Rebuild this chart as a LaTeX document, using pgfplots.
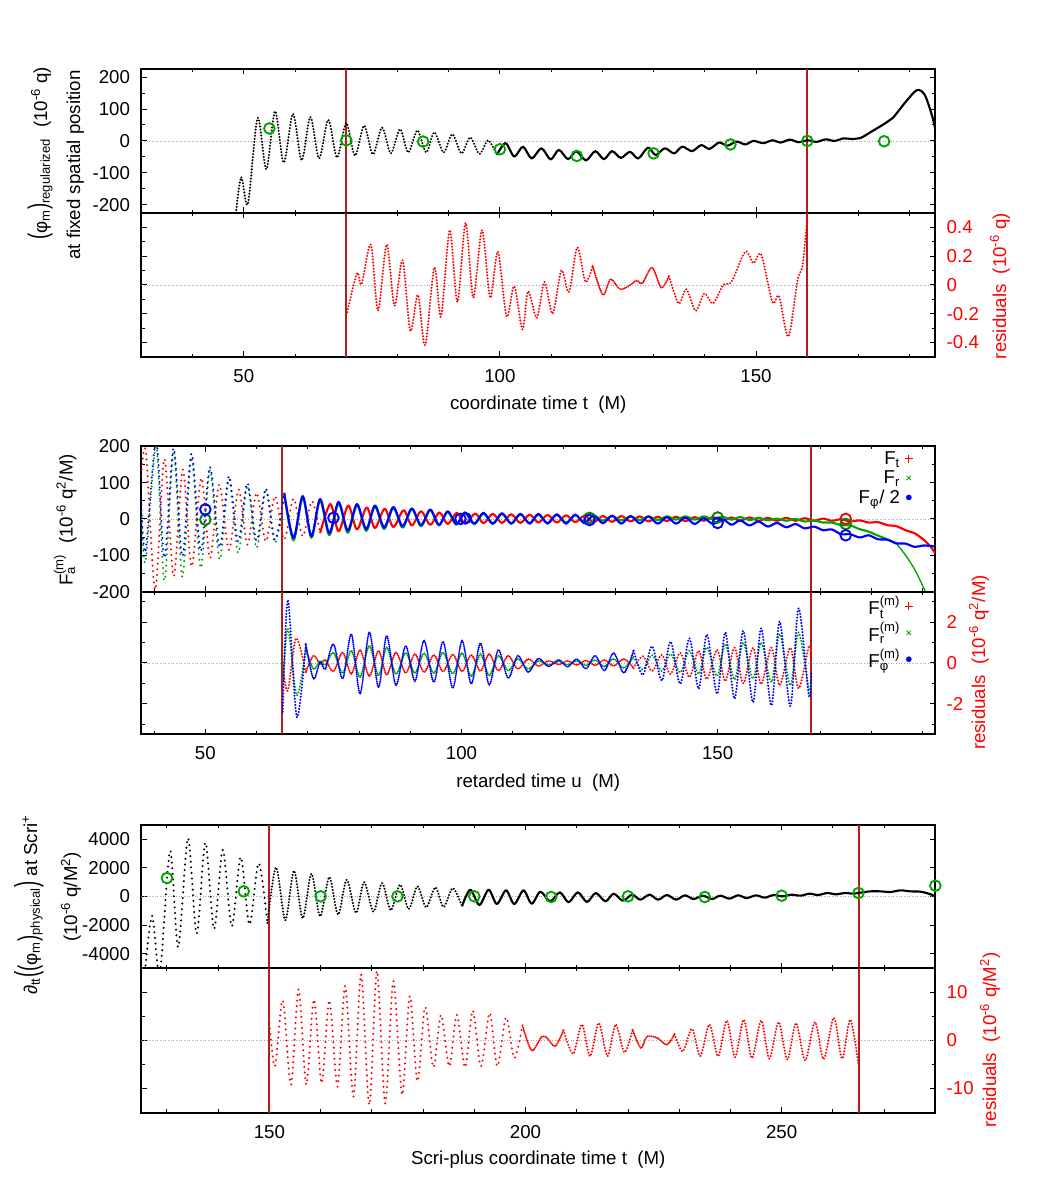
\documentclass[border=0pt]{standalone}
\usepackage{fontspec}
\setmainfont{Liberation Sans}
\usepackage{graphicx}
\usepackage{pgfplots}
\pgfplotsset{compat=1.18}

\definecolor{vline}{RGB}{178,30,30}
\definecolor{cgreen}{RGB}{0,165,0}
\definecolor{cblue}{RGB}{0,0,255}
\definecolor{cred}{RGB}{255,0,0}

\tikzset{
  dots/.style={line width=1.7pt, line cap=round, dash pattern=on 0pt off 2.3pt},
  densedots/.style={line width=1.6pt, line cap=round, dash pattern=on 0pt off 1.5pt},
  sparsedots/.style={line width=1.7pt, line cap=round, dash pattern=on 0pt off 4.2pt},
  full/.style={line width=1.6pt, line join=round},
  zeroline/.style={gray!70, line width=0.4pt, dash pattern=on 0.8pt off 1.2pt},
  marker/.style={vline, line width=1.5pt},
}

\pgfplotsset{
  panel/.style={
    scale only axis, width=595.5pt, anchor=north west,
    axis line style={line width=1.4pt},
    every tick/.style={black, line width=0.7pt},
    major tick length=4pt, minor tick length=2.4pt,
    tick align=inside, xtick pos=both, ytick pos=both,
    scaled ticks=false, clip=true,
    xticklabel style={anchor=center, yshift=-14.4pt},
  },
  leftlab/.style={yticklabel style={anchor=east, xshift=-5pt}},
  rightlab/.style={yticklabel pos=right, yticklabel style={anchor=west, xshift=5pt, text=red}},
  legstyle/.style={legend style={draw=none, fill=none, anchor=north east,
    font=\fontsize{14}{16.8}\selectfont, column sep=3pt,
    nodes={inner sep=0.6pt}},
    legend cell align=right, legend plot pos=right},
}

\newcommand{\bp}[1]{\scalebox{1}[1.45]{#1}}
% component symbol with stacked index and mode label
\newcommand{\Fm}[1]{F$_{\mbox{\fontsize{9.8}{10}\selectfont #1}}^{\mbox{\fontsize{9.8}{10}\selectfont (m)}}$}

\begin{document}
\begin{tikzpicture}[font=\fontsize{14}{16.8}\selectfont]
\path[use as bounding box] (0pt,0pt) rectangle (787.5pt,-885pt);

%% ---------------- field at fixed spatial position ----------------
\begin{axis}[panel, leftlab, at={(106pt,-51.8pt)}, height=107.8pt,
  xmin=30, xmax=185, ymin=-225, ymax=225,
  xtick={50,100,150}, xticklabels={},
  minor xtick={30,40,...,180},
  ytick={-200,-100,0,100,200}, yticklabels={-200,-100,0,100,200},
  minor ytick={-150,-50,50,150}]
\addplot[zeroline, forget plot] coordinates {(30,0) (185,0)};
\addplot[marker, forget plot] coordinates {(70,-225) (70,225)};
\addplot[marker, forget plot] coordinates {(160,-225) (160,225)};
\addplot[black, dots, smooth, no markers, forget plot] coordinates {
 (48.4,-235) (49.5,-113) (50.8,-197) (52.7,72) (54.4,-89) (56.1,93) (57.8,-68)
 (59.6,85) (61.3,-61) (63.0,75) (64.7,-55) (66.5,66) (68.2,-52) (70.0,56)
 (71.7,-46) (73.5,48) (75.2,-42) (77.0,42) (78.7,-39) (80.5,37) (82.1,-36)
 (83.9,33) (85.6,-36) (87.2,27) (89.0,-36) (90.7,21) (92.5,-39) (94.2,11)
 (96.0,-41) (97.7,2) (99.4,-44)};
\addplot[black, full, smooth, no markers, forget plot] coordinates {
 (99.4,-44) (101.1,-7) (102.8,-49) (104.5,-18) (106.2,-55) (108.1,-23) (109.9,-58)
 (111.5,-28) (113.3,-57) (114.9,-32) (116.8,-61) (118.6,-32) (120.3,-57) (121.9,-32)
 (123.6,-53) (125.4,-34) (127.0,-55) (128.9,-21) (130.4,-44) (132.2,-23) (134.0,-39)
 (135.6,-18) (137.5,-32) (139.3,-13) (140.9,-25) (142.8,-5) (144.4,-15) (146.2,-2)
 (147.9,-11) (149.5,0) (151.4,-7) (153.2,2) (154.8,-5) (156.6,4) (158.3,-4)
 (160.1,2) (161.8,-3) (163.6,5) (165.3,0) (167.1,8) (168.7,6) (170.5,10)
 (172.0,24) (175.3,56) (176.7,72) (179.3,124) (181.4,159) (182.9,145) (184.3,82) (185.1,30)};
\addplot[only marks, mark=o, mark size=4pt, cgreen, line width=1.4pt, forget plot] coordinates {
 (55,39) (70,2) (85,-2) (100,-26) (115,-47) (130,-39) (145,-11) (160,0) (175,-1)};
\end{axis}

\begin{axis}[panel, rightlab, at={(106pt,-159.6pt)}, height=108pt,
  xmin=30, xmax=185, ymin=-0.5, ymax=0.5,
  xtick={50,100,150}, xticklabels={50,100,150},
  minor xtick={30,40,...,180},
  ytick={-0.4,-0.2,0,0.2,0.4}, yticklabels={-0.4,-0.2,0,0.2,0.4},
  minor ytick={-0.3,-0.1,0.1,0.3}]
\addplot[zeroline, forget plot] coordinates {(30,0) (185,0)};
\addplot[marker, forget plot] coordinates {(70,-0.5) (70,0.5)};
\addplot[marker, forget plot] coordinates {(160,-0.5) (160,0.5)};
\addplot[cred, dots, smooth, no markers, forget plot] coordinates {
 (70.2,-0.19) (72.1,0.08) (73.0,0.005) (74.8,0.28) (76.2,-0.18) (77.9,0.28)
 (79.4,-0.145) (81.0,0.17) (82.5,-0.32) (84.0,-0.07) (85.4,-0.42) (87.2,0.12)
 (88.5,-0.22) (90.2,0.38) (91.7,-0.12) (93.3,0.43) (94.8,-0.09) (96.5,0.38)
 (98.1,-0.09) (99.6,0.23) (101.3,-0.22) (102.8,-0.01) (104.4,-0.31) (105.5,-0.045)
 (107.2,-0.23) (108.7,0.02) (110.3,-0.2) (112.0,0.1) (113.5,-0.05) (115.1,0.26)
 (116.7,0.02) (118.1,0.13)};
\addplot[cred, densedots, smooth, no markers, forget plot] coordinates {
 (118.1,0.13) (120.1,-0.07) (121.6,0.04) (123.4,-0.03) (125.1,-0.01) (126.7,0.03)
 (127.8,0.01) (129.7,0.12) (131.5,-0.02) (133.0,0.06)};
\addplot[cred, dots, smooth, no markers, forget plot] coordinates {
 (133.0,0.06) (134.9,-0.13) (136.4,-0.03) (138.2,-0.18) (139.9,-0.06) (141.6,-0.13)
 (143.6,0.0) (145.2,0.02) (147.9,0.23) (149.5,0.15) (151.0,0.21) (153.2,-0.12)
 (154.5,-0.08) (156.3,-0.36) (158.1,0.03) (159.1,0.14) (160.0,0.46)};
\end{axis}

%% ---------------- self-force components ----------------
\begin{axis}[panel, leftlab, legstyle, legend style={at={(0.977,0.99)}, row sep=2pt},
  at={(106pt,-334.7pt)}, height=109pt,
  xmin=37.5, xmax=192.5, ymin=-200, ymax=200,
  xtick={50,100,150}, xticklabels={},
  minor xtick={40,50,...,190},
  ytick={-200,-100,0,100,200}, yticklabels={-200,-100,0,100,200},
  minor ytick={-150,-50,50,150}]
\addplot[zeroline, forget plot] coordinates {(37.5,0) (192.5,0)};
\addplot[marker, forget plot] coordinates {(65,-200) (65,200)};
\addplot[marker, forget plot] coordinates {(168.3,-200) (168.3,200)};
% F_t
\addplot[cred, sparsedots, smooth, no markers, forget plot] coordinates {
 (37.5,120) (38.4,185) (40.2,-195) (42.0,165) (43.8,-158) (45.6,136) (47.3,-131)
 (49.2,113) (50.9,-108) (52.7,95) (54.6,-85) (56.5,81) (58.2,-71) (60.0,72)
 (61.8,-62) (63.6,63) (65.4,-57) (67.2,56) (69.0,-48) (70.8,49) (72.4,-39)};
\addplot[cred, full, smooth, no markers, forget plot] coordinates {
 (72.4,-39) (74.4,41) (76.0,-34) (77.9,37) (79.6,-29) (81.5,32) (83.1,-25) (85.0,28)
 (86.7,-22) (88.7,24) (90.3,-18) (92.1,21) (93.9,-16) (95.7,18) (97.3,-14) (99.1,17)
 (100.7,-13) (102.7,15) (104.3,-12) (106.1,14) (107.9,-11) (109.7,13) (111.5,-11)
 (113.3,12) (115.0,-10) (116.8,11) (118.6,-10) (120.4,10) (122.2,-9) (124.0,9)
 (125.8,-9) (127.6,8) (129.4,-8) (131.2,8) (133.0,-7) (134.8,7) (136.5,-7) (138.3,6)
 (140.1,-6) (141.9,6) (143.7,-6) (145.5,5) (147.3,-5) (149.1,5) (150.9,-5) (152.7,4)
 (154.4,-5) (156.2,4) (158.0,-5) (159.8,3) (161.6,-5) (163.4,3) (165.2,-5) (167.0,2)
 (168.8,-5) (170.6,1) (172.3,-5) (174.1,-1) (175.9,-7) (177.7,-4) (179.5,-10)
 (181.3,-9) (183.1,-17) (184.9,-20) (186.7,-31) (188.5,-40) (190.2,-57) (191.5,-75) (192.5,-95)};
% F_r
\addplot[cgreen, sparsedots, smooth, no markers, forget plot] coordinates {
 (37.5,20) (38.3,-120) (40.4,200) (42.0,-170) (43.8,187) (45.5,-160) (47.3,170)
 (49.1,-135) (50.9,135) (52.8,-112) (54.6,110) (56.4,-94) (58.2,92) (60.0,-80)
 (61.8,78) (63.6,-66) (65.4,67)};
\addplot[cgreen, full, smooth, no markers, forget plot] coordinates {
 (65.4,67) (67.2,-59) (69.0,58) (70.7,-52) (72.4,51) (74.2,-45) (76.0,43) (77.8,-38)
 (79.6,38) (81.4,-33) (83.1,34) (84.9,-28) (86.7,30) (88.5,-24) (90.3,27) (92.1,-20)
 (93.9,24) (95.6,-18) (97.3,19) (99.0,-16) (100.7,16) (102.5,-15) (104.3,15)
 (106.1,-14) (107.9,14) (109.7,-13) (111.5,13) (113.3,-12) (115.0,12) (116.8,-11)
 (118.6,11) (120.4,-10) (122.2,10) (124.0,-8) (125.8,9) (127.6,-5) (129.4,8)
 (131.2,-4) (133.0,7) (134.8,-3) (136.5,7) (138.3,-3) (140.1,7) (141.9,-2) (143.7,7)
 (145.5,-2) (147.3,7) (149.1,-1) (150.9,6) (152.7,-2) (154.4,5) (156.2,-3) (158.0,3)
 (159.8,-4) (161.6,1) (163.4,-5) (165.2,0) (167.0,-7) (168.8,-4) (170.6,-10)
 (172.3,-10) (174.1,-17) (175.9,-18) (177.7,-28) (179.5,-35) (181.3,-46) (183.1,-56)
 (184.9,-68)};
\addplot[cgreen, line width=1pt, smooth, no markers, forget plot] coordinates {
 (184.9,-68) (186.7,-100) (188.5,-140) (189.9,-180) (191.0,-215)};
% F_phi / 2
\addplot[cblue, sparsedots, smooth, no markers, forget plot] coordinates {
 (37.5,40) (38.3,-90) (40.4,215) (42.0,-107) (43.8,195) (45.5,-103) (47.3,180)
 (49.1,-89) (50.9,143) (52.8,-78) (54.6,118) (56.4,-62) (58.2,99) (60.0,-60)
 (61.8,84) (63.6,-58) (65.4,72)};
\addplot[cblue, full, smooth, no markers, forget plot] coordinates {
 (65.4,72) (67.2,-52) (69.0,63) (70.7,-48) (72.4,55) (74.2,-39) (76.0,47) (77.8,-32)
 (79.6,41) (81.4,-28) (83.1,37) (84.9,-23) (86.7,33) (88.5,-20) (90.3,29) (92.1,-17)
 (93.9,26) (95.6,-16) (97.3,21) (99.0,-14) (100.7,18) (102.5,-13) (104.3,17)
 (106.1,-13) (107.9,16) (109.7,-13) (111.5,14) (113.3,-13) (115.0,14) (116.8,-13)
 (118.6,13) (120.4,-13) (122.2,12) (124.0,-12) (125.8,10) (127.6,-12) (129.4,9)
 (131.2,-13) (133.0,8) (134.8,-12) (136.5,7) (138.3,-13) (140.1,5) (141.9,-13)
 (143.7,4) (145.5,-14) (147.3,2) (149.1,-14) (150.9,0) (152.7,-16) (154.4,-4)
 (156.2,-18) (158.0,-7) (159.8,-21) (161.6,-11) (163.4,-23) (165.2,-14) (167.0,-26)
 (168.8,-21) (170.6,-31) (172.3,-29) (174.1,-42) (175.9,-42) (177.7,-51) (179.5,-45)
 (181.3,-56) (183.1,-57) (184.9,-67) (186.7,-68) (188.5,-77) (190.2,-73) (192.5,-76)};
\addplot[only marks, mark=o, mark size=4pt, cred, line width=1.4pt, forget plot] coordinates {(175,0)};
\addplot[only marks, mark=o, mark size=4pt, cgreen!80!black, line width=1.4pt, forget plot] coordinates {
 (50,-2) (125,3) (150,4) (175,-14)};
\addplot[only marks, mark=o, mark size=4pt, cblue, line width=1.4pt, forget plot] coordinates {
 (50,26) (75,3) (99.8,0) (100.8,2) (125,-3) (150,-11) (175,-45)};
\addlegendimage{only marks, mark=+, cred, mark size=3pt, line width=0.6pt}
\addlegendentry{F\textsubscript{t}}
\addlegendimage{only marks, mark=x, cgreen, mark size=2.4pt, line width=0.6pt}
\addlegendentry{F\textsubscript{r}}
\addlegendimage{only marks, mark=*, cblue, mark size=1.9pt}
\addlegendentry{F\textsubscript{φ}/ 2}
\end{axis}

\begin{axis}[panel, rightlab, legstyle, legend style={at={(0.977,0.995)}, row sep=3pt},
  at={(106pt,-443.7pt)}, height=107pt,
  xmin=37.5, xmax=192.5, ymin=-3.5, ymax=3.5,
  xtick={50,100,150}, xticklabels={50,100,150},
  minor xtick={40,50,...,190},
  ytick={-2,0,2}, yticklabels={-2,0,2},
  minor ytick={-3,-1,1,3}]
\addplot[zeroline, forget plot] coordinates {(37.5,0) (192.5,0)};
\addplot[marker, forget plot] coordinates {(65,-3.5) (65,3.5)};
\addplot[marker, forget plot] coordinates {(168.3,-3.5) (168.3,3.5)};
% F_t residual
\addplot[cred, dots, smooth, no markers, forget plot] coordinates {
 (65.1,-0.2) (66.1,-1.36) (67.7,1.21) (69.6,-0.46)};
\addplot[cred, densedots, smooth, no markers, forget plot] coordinates {
 (69.6,-0.46) (71.1,0.36) (72.4,-0.05) (73.4,0.15) (75.0,-0.42) (76.8,0.52) (78.5,-0.54)
 (80.2,0.64) (82.0,-0.65) (83.8,0.6) (85.4,-0.59) (87.2,0.52) (89.1,-0.49) (90.9,0.44)
 (92.7,-0.46) (94.6,0.39) (96.4,-0.42) (98.3,0.42) (100.1,-0.42) (101.9,0.39)
 (103.7,-0.4) (105.4,0.44) (107.2,-0.38) (109.1,0.36) (111.0,-0.3) (113.0,0.2)
 (115.0,-0.16) (117.0,0.1) (119.0,-0.08) (120.7,0.1) (122.5,-0.1) (124.3,0.12)
 (126.1,-0.12) (127.9,0.15) (129.7,-0.15) (131.7,0.2) (133.6,-0.25)};
\addplot[cred, dots, smooth, no markers, forget plot] coordinates {
 (133.6,-0.25) (135.4,0.33) (137.2,-0.4) (139.1,0.4) (140.8,-0.55) (142.7,0.5)
 (144.5,-0.7) (146.3,0.6) (147.9,-0.8) (149.9,0.65) (151.5,-0.9) (153.3,0.75)
 (155.0,-1.0) (156.9,0.75) (158.5,-1.05) (160.5,0.75) (162.1,-1.1) (164.2,0.75)
 (165.8,-1.25) (167.8,0.8) (168.3,0.5)};
% F_r residual
\addplot[cgreen, dots, smooth, no markers, forget plot] coordinates {
 (65.1,-1.0) (66.1,1.67) (67.85,-1.6) (69.6,0.69)};
\addplot[cgreen, densedots, smooth, no markers, forget plot] coordinates {
 (69.6,0.69) (71.1,-0.3) (72.4,0.1) (73.4,-0.1) (75.0,0.5) (76.8,-0.5) (78.5,0.6)
 (80.2,-0.7) (82.0,0.85) (83.8,-0.62) (85.4,0.77) (87.2,-0.55) (89.1,0.5) (90.9,-0.5)
 (92.7,0.47) (94.6,-0.5) (96.4,0.52) (98.3,-0.54) (100.1,0.49) (101.9,-0.65)
 (103.7,0.44) (105.4,-0.62) (107.2,0.36) (109.1,-0.38) (111.0,0.2) (113.0,-0.3)
 (115.0,0.1) (117.0,-0.1) (119.0,0.08) (120.7,-0.1) (122.5,0.1) (124.3,-0.12)
 (126.1,0.15) (127.9,-0.18) (129.7,0.2) (131.7,-0.25) (133.6,0.3)};
\addplot[cgreen, dots, smooth, no markers, forget plot] coordinates {
 (133.6,0.3) (135.4,-0.33) (137.2,0.38) (139.1,-0.4) (140.8,0.44) (142.7,-0.46)
 (144.5,0.6) (146.3,-0.54) (147.9,0.77) (149.9,-0.65) (151.5,0.93) (153.3,-0.82)
 (155.0,1.0) (156.9,-0.78) (158.5,1.0) (160.5,-0.95) (162.1,1.42) (164.2,-1.1)
 (165.8,1.5) (167.8,-1.27) (168.3,-1.0)};
% F_phi residual
\addplot[cblue, dots, smooth, no markers, forget plot] coordinates {
 (65.1,-2.4) (66.1,3.1) (67.85,-2.66) (69.6,0.93)};
\addplot[cblue, densedots, smooth, no markers, forget plot] coordinates {
 (69.6,0.93) (71.1,-0.78) (72.4,0.05) (73.4,-0.3) (75.0,0.93) (76.8,-0.78) (78.5,1.42)
 (80.2,-1.52) (82.0,1.5) (83.8,-1.2) (85.4,1.34) (87.2,-1.1) (89.1,0.85) (90.9,-0.9)
 (92.7,1.1) (94.6,-0.95) (96.4,1.05) (98.3,-1.24) (100.1,1.1) (101.9,-1.03)
 (103.7,0.98) (105.4,-1.08) (107.2,0.65) (109.1,-0.75) (111.0,0.36) (113.0,-0.45)
 (115.0,0.22) (117.0,-0.18) (119.0,0.16) (120.7,-0.2) (122.5,0.2) (124.3,-0.29)
 (126.1,0.36) (127.9,-0.38) (129.7,0.49) (131.7,-0.49) (133.6,0.6)};
\addplot[cblue, dots, smooth, no markers, forget plot] coordinates {
 (133.6,0.6) (135.4,-0.59) (137.2,0.82) (139.1,-0.87) (140.8,1.05) (142.7,-1.03)
 (144.5,1.21) (146.3,-1.27) (147.9,1.39) (149.9,-1.52) (151.5,1.5) (153.3,-1.76)
 (155.0,1.58) (156.9,-1.93) (158.5,1.7) (160.5,-2.09) (162.1,2.03) (164.2,-2.12)
 (165.8,2.68) (167.8,-1.6) (168.3,-0.5)};
\addlegendimage{only marks, mark=+, cred, mark size=3pt, line width=0.6pt}
\addlegendentry{\Fm{t}}
\addlegendimage{only marks, mark=x, cgreen, mark size=2.4pt, line width=0.6pt}
\addlegendentry{\Fm{r}}
\addlegendimage{only marks, mark=*, cblue, mark size=1.9pt}
\addlegendentry{\Fm{φ}}
\end{axis}

%% ---------------- second time derivative at Scri+ ----------------
\begin{axis}[panel, leftlab, at={(106pt,-618.5pt)}, height=107.5pt,
  xmin=125, xmax=280, ymin=-5000, ymax=5000,
  xtick={150,200,250}, xticklabels={},
  minor xtick={130,140,...,280},
  ytick={-4000,-2000,0,2000,4000}, yticklabels={-4000,-2000,0,2000,4000}]
\addplot[zeroline, forget plot] coordinates {(125,0) (280,0)};
\addplot[marker, forget plot] coordinates {(150,-5000) (150,5000)};
\addplot[marker, forget plot] coordinates {(265,-5000) (265,5000)};
\addplot[black, sparsedots, smooth, no markers, forget plot] coordinates {
 (125.6,-5600) (127.1,-1350) (128.6,-5400) (130.6,3178) (132.2,-3550) (134.1,4060)
 (135.8,-2598) (137.5,3758) (139.2,-2274) (140.9,3248) (142.65,-2088) (144.4,2738)
 (146.1,-1972) (147.9,2320) (149.6,-1856)};
\addplot[black, dots, smooth, no markers, forget plot] coordinates {
 (149.6,-1856) (151.3,2018) (153.1,-1670) (154.8,1786) (156.5,-1531) (158.2,1578)
 (159.9,-1392) (161.7,1346) (163.4,-1276) (165.1,1160) (166.9,-1160) (168.5,998)
 (170.3,-1067) (172.0,928) (173.7,-974) (175.5,812) (177.2,-882) (178.9,696)
 (180.6,-766) (182.4,626) (184.0,-742) (185.8,580) (187.6,-696)};
\addplot[black, full, smooth, no markers, forget plot] coordinates {
 (187.6,-696) (189.2,464) (191.0,-603) (192.8,464) (194.4,-534) (196.2,418)
 (197.8,-534) (199.6,418) (201.2,-510) (202.9,325) (204.8,-348) (206.7,278)
 (208.4,-418) (210.2,278) (212.0,-394) (213.7,232) (215.6,-348) (217.2,186)
 (219.0,-302) (220.8,116) (222.4,-232) (224.2,116) (225.9,-232) (227.6,93)
 (229.4,-232) (231.1,70) (232.8,-186) (234.6,46) (236.4,-186) (238.0,46)
 (239.8,-162) (241.5,70) (243.2,-116) (245.0,70) (246.7,-93) (248.4,93) (250.2,0)
 (251.9,116) (253.7,46) (255.4,186) (257.1,93) (258.9,232) (260.6,139) (262.3,232)
 (264.1,186) (265.7,278) (267.3,348) (269.3,348) (271.2,302) (273.2,418) (275.1,348)
 (277.1,325) (278.7,186) (280,0)};
\addplot[only marks, mark=o, mark size=4pt, cgreen, line width=1.4pt, forget plot] coordinates {
 (130,1276) (145,348) (160,0) (175,0) (190,0) (205,-46) (220,0) (235,-46) (250,46) (265,232) (280,742)};
\end{axis}

\begin{axis}[panel, rightlab, at={(106pt,-726pt)}, height=108.5pt,
  xmin=125, xmax=280, ymin=-15, ymax=15,
  xtick={150,200,250}, xticklabels={150,200,250},
  minor xtick={130,140,...,280},
  ytick={-10,0,10}, yticklabels={-10,0,10},
  minor ytick={-5,5}]
\addplot[zeroline, forget plot] coordinates {(125,0) (280,0)};
\addplot[marker, forget plot] coordinates {(150,-15) (150,15)};
\addplot[marker, forget plot] coordinates {(265,-15) (265,15)};
\addplot[cred, sparsedots, smooth, no markers, forget plot] coordinates {
 (150.0,3.6) (151.1,-5.4) (152.6,8.3) (154.2,-9.2) (155.7,10.6) (157.2,-9.2)
 (158.7,8.5) (160.2,-8.9) (161.7,8.3) (163.3,-9.6) (164.8,11.3) (166.4,-11.7)
 (167.9,13.7) (169.5,-13.4) (171.0,14.4) (172.6,-13.1) (174.2,12.3) (175.9,-11.3)
 (177.4,9.2) (178.9,-8.5) (180.4,6.9) (182.0,-5.6) (183.5,5.3) (185.1,-5.4)
 (186.6,5.3) (188.2,-5.6) (189.7,6.2) (191.3,-5.4) (193.0,5.7) (194.5,-5.4)
 (196.2,4.8) (197.8,-3.7) (199.4,3.1)};
\addplot[cred, densedots, smooth, no markers, forget plot] coordinates {
 (199.4,3.1) (201.2,-2.1) (203.2,0.8) (204.3,0.4) (205.8,-1.25) (207.4,2.1)};
\addplot[cred, dots, smooth, no markers, forget plot] coordinates {
 (207.4,2.1) (209.3,-2.8) (211.0,3.3) (212.6,-3.3) (214.3,3.6) (216.0,-3.3)
 (217.6,3.3) (219.3,-2.5) (220.9,2.2)};
\addplot[cred, densedots, smooth, no markers, forget plot] coordinates {
 (220.9,2.2) (222.5,-1.6) (223.7,0.8) (225.7,0.5) (227.6,-0.9) (229.1,1.3)};
\addplot[cred, dots, smooth, no markers, forget plot] coordinates {
 (229.1,1.3) (230.7,-2.3) (232.5,2.4) (234.1,-3.3) (235.9,3.3) (237.6,-3.3)
 (239.3,4.1) (240.9,-3.5) (242.6,4.3) (244.2,-3.7) (246.0,4.1) (247.6,-3.8)
 (249.4,3.8) (251.1,-4.0) (252.8,3.6) (254.6,-4.2) (256.5,3.8) (258.2,-3.9)
 (260.2,4.7) (261.8,-3.8) (263.4,4.3) (265.0,-5.1)};
\end{axis}

%% ---------------- axis titles ----------------
\node[rotate=90, anchor=base] at (35.25pt,-115pt)
  {\bp{(}φ\textsubscript{m}\bp{)}\textsubscript{regularized}\ \ (10\textsuperscript{-6} q)};
\node[rotate=90, anchor=base] at (60pt,-123.75pt) {at fixed spatial position};
\node[rotate=90, anchor=base, text=red] at (754.5pt,-214.5pt)
  {residuals\ \ (10\textsuperscript{-6} q)};
\node[anchor=center] at (403.7pt,-303.6pt) {coordinate time t\ \ (M)};

\node[rotate=90, anchor=base] at (54.5pt,-390pt)
  {\Fm{a}\ \ (10\textsuperscript{-6} q\textsuperscript{2}/M)};
\node[rotate=90, anchor=base, text=red] at (738.75pt,-496.9pt)
  {residuals\ \ (10\textsuperscript{-6} q\textsuperscript{2}/M)};
\node[anchor=center] at (403.7pt,-587pt) {retarded time u\ \ (M)};

\node[rotate=90, anchor=base] at (27.75pt,-678.75pt)
  {∂\textsubscript{tt}\scalebox{1}[1.7]{(}\bp{(}φ\textsubscript{m}\bp{)}\textsubscript{physical}\scalebox{1}[1.7]{)} at Scri\textsuperscript{+}};
\node[rotate=90, anchor=base] at (57.75pt,-672.75pt)
  {(10\textsuperscript{-6} q/M\textsuperscript{2})};
\node[rotate=90, anchor=base, text=red] at (747pt,-780pt)
  {residuals\ \ (10\textsuperscript{-6} q/M\textsuperscript{2})};
\node[anchor=center] at (403.7pt,-870pt) {Scri-plus coordinate time t\ \ (M)};
\end{tikzpicture}
\end{document}
